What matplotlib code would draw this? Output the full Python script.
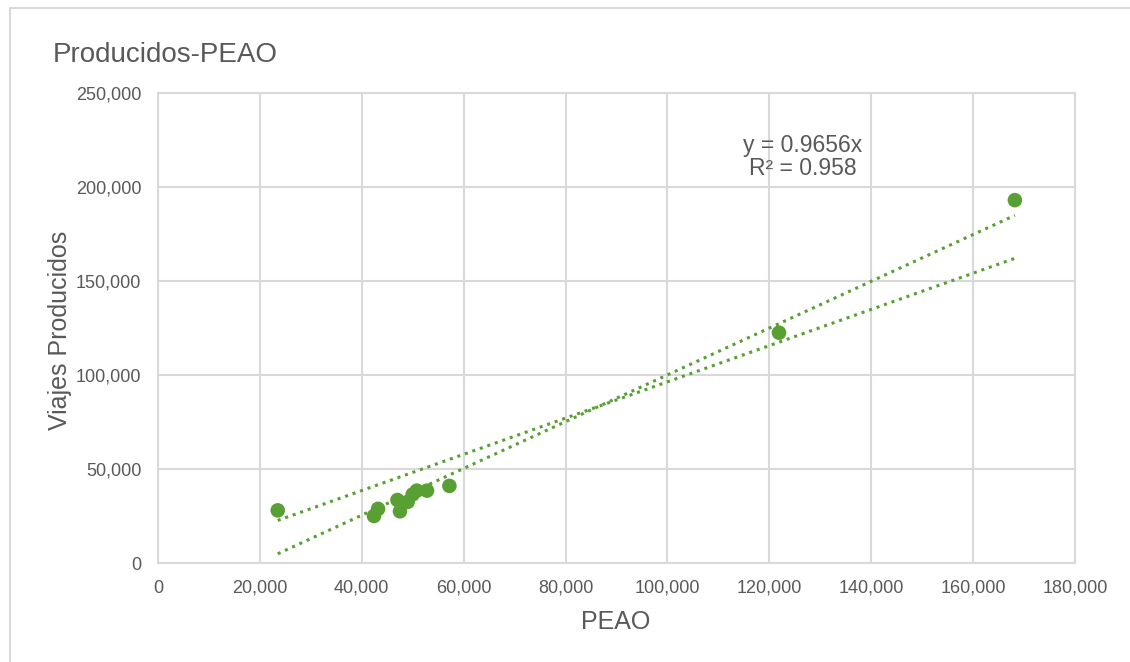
import matplotlib.pyplot as plt
import numpy as np
from matplotlib.patches import Rectangle
from matplotlib.ticker import FuncFormatter

plt.rcParams['font.family'] = ['Liberation Sans', 'DejaVu Sans']

# Data
peao = [23500, 42400, 43200, 47000, 47500, 49000, 50000, 50800, 52800, 57200, 121900, 168200]
viajes = [28000, 25000, 28800, 33500, 27500, 32500, 36500, 38500, 38500, 41000, 122500, 193000]
eq_text = "y = 0.9656x\nR² = 0.958"

green = '#58a033'
grey_txt = '#595959'
grid_c = '#d9d9d9'

x = np.array(peao, dtype=float)
y = np.array(viajes, dtype=float)

fig = plt.figure(figsize=(11.3, 6.62), dpi=100)
ax = fig.add_axes([158/1130, 1-563/662, 917/1130, 470/662])

# chart frame
fig.patches.append(Rectangle((10/1130, -0.1), 1.2, 1 - 8/662 + 0.1, transform=fig.transFigure,
                             fill=False, edgecolor='#d9d9d9', linewidth=1.5))

ax.scatter(x, y, s=110, color=green, zorder=3, edgecolors='none')

# trendlines: through origin and ordinary least squares
xs = np.linspace(x.min(), x.max(), 50)
k = np.sum(x*y) / np.sum(x*x)
ax.plot(xs, k*xs, linestyle=(0, (1, 1.6)), color=green, linewidth=2.2, zorder=2)
b1, b0 = np.polyfit(x, y, 1)
ax.plot(xs, b1*xs + b0, linestyle=(0, (1, 1.6)), color=green, linewidth=2.2, zorder=2)

ax.text(126600, 216000, eq_text, ha='center', va='center', fontsize=16.5,
        color=grey_txt, linespacing=1.0)

ax.set_xlim(0, 180000)
ax.set_ylim(0, 250000)
ax.set_xticks(np.arange(0, 180001, 20000))
ax.set_yticks(np.arange(0, 250001, 50000))
fmt = FuncFormatter(lambda v, p: f'{int(v):,}')
ax.xaxis.set_major_formatter(fmt)
ax.yaxis.set_major_formatter(fmt)
ax.tick_params(length=0, labelsize=13, labelcolor=grey_txt)
ax.tick_params(axis='y', pad=12)
ax.tick_params(axis='x', pad=12)
ax.grid(True, color=grid_c, linewidth=1.5)
ax.set_axisbelow(True)
for s in ax.spines.values():
    s.set_color(grid_c)
    s.set_linewidth(1.5)

fig.text(53/1130, 1-55/662, 'Producidos-PEAO', fontsize=20, color=grey_txt, va='center', ha='left')
fig.text(60/1130, 1-330/662, 'Viajes Producidos', fontsize=18, color=grey_txt,
         rotation=90, va='center', ha='center')
fig.text(616/1130, 1-622/662, 'PEAO', fontsize=18, color=grey_txt, va='center', ha='center')

fig.savefig('out.png', dpi=100)
